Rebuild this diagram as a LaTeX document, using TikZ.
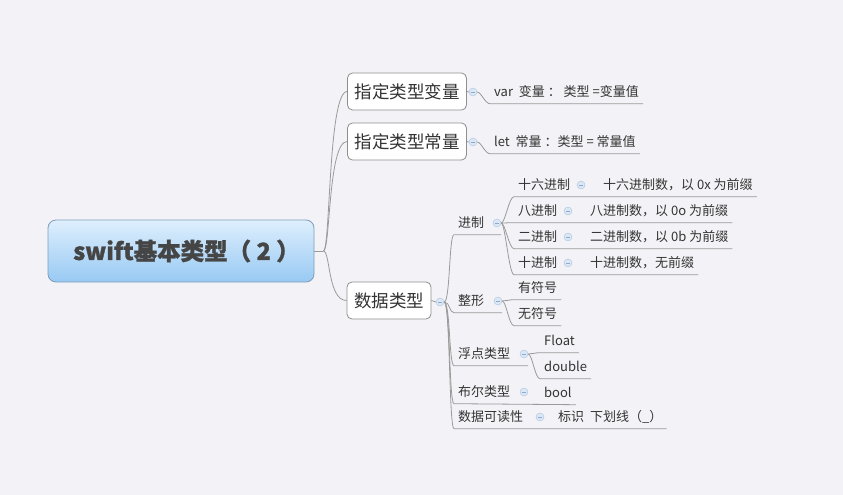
\documentclass[tikz,border=0pt]{standalone}
\usepackage{fontspec}
\setmainfont{Noto Sans CJK SC}
\newfontfamily\genfont{Noto Sans CJK SC}[BoldFeatures={FakeBold=1.2}]
\usetikzlibrary{positioning,calc}
\definecolor{beijing}{HTML}{F3F3F7}
\definecolor{xianse}{HTML}{9A9A9A}
\definecolor{wenzi}{HTML}{333333}
\definecolor{kuangbian}{HTML}{8E8E8E}
\definecolor{genbian}{HTML}{7F9DB9}
\definecolor{genshang}{HTML}{DEEFFD}
\definecolor{genxia}{HTML}{98C9F3}
\definecolor{genzi}{HTML}{454545}
\definecolor{dianse}{HTML}{DCE7F4}
\definecolor{dianbian}{HTML}{A9C2E2}
\definecolor{dianhen}{HTML}{8EAAD0}
\tikzset{
  gen/.style={draw=genbian,line width=0.8pt,rounded corners=8pt,top color=genshang,bottom color=genxia,
    minimum width=266pt,minimum height=62pt,font=\genfont\fontsize{23.5}{27}\selectfont\bfseries,text=genzi},
  kuang/.style={draw=kuangbian,line width=0.8pt,fill=white,rounded corners=5pt,minimum height=37pt,
    inner xsep=7pt,font=\fontsize{17.5}{20}\selectfont,text=wenzi},
  zi/.style={anchor=west,inner xsep=4pt,inner ysep=5pt,text height=11pt,text depth=2pt,
    font=\fontsize{13}{15}\selectfont,text=wenzi},
  dian/.style={circle,draw=dianbian,fill=dianse,minimum size=8pt,inner sep=0pt,
    path picture={\draw[dianhen,line width=0.9pt] ([xshift=1.8pt]path picture bounding box.west)
      -- ([xshift=-1.8pt]path picture bounding box.east);}},
  xian/.style={draw=xianse,line width=0.8pt},
}
\begin{document}
\begin{tikzpicture}[x=1pt,y=-1pt]
  \useasboundingbox[fill=beijing] (0,0) rectangle (843,495);

  \node[gen] (gen) at (181,251) {swift基本类型（ 2 ）\kern-11pt};
  \node[kuang] (bl) at (407,91.5) {指定类型变量};
  \node[kuang] (cl) at (407,141.5) {指定类型常量};
  \node[kuang] (sj) at (389,300.5) {数据类型};
  \draw[xian] (gen.east) -- ++(9,0) coordinate (gj);
  \draw[xian] (gj) .. controls +(7,0) and +(-19,0) .. (bl.west);
  \draw[xian] (gj) .. controls +(7,0) and +(-19,0) .. (cl.west);
  \draw[xian] (gj) .. controls +(7,0) and +(-19,0) .. (sj.west);

  \node[dian] (blm) at (473,92) {};
  \node[dian] (clm) at (473,142) {};
  \node[zi] (blz) at (490,92) {var\ \ 变量\ ：\ 类型 =变量值};
  \node[zi] (clz) at (490,142) {let\ \ 常量\ ：类型 = 常量值};
  \draw[xian] (bl.east) -- (blm.west);
  \draw[xian] (cl.east) -- (clm.west);
  \draw[xian] (blm.east) .. controls +(4,0) and +(-5,0) .. (blz.south west) -- (blz.south east);
  \draw[xian] (clm.east) .. controls +(4,0) and +(-5,0) .. (clz.south west) -- (clz.south east);

  \node[dian] (sjm) at (440,302) {};
  \node[dian] (jzm) at (497,223) {};
  \node[dian] (zxm) at (498,301) {};
  \node[dian] (fdm) at (524,354) {};
  \node[dian] (bem) at (524,392) {};
  \node[dian] (kdm) at (540,417) {};
  \node[zi] (jz) at (454,223) {进制};
  \node[zi] (zx) at (454,301) {整形};
  \node[zi] (fd) at (454,354) {浮点类型};
  \node[zi] (be) at (454,392) {布尔类型};
  \node[zi] (kd) at (454,417) {数据可读性};
  \draw[xian] (sj.east) -- (sjm.west);

  \node[dian] (slm) at (581,185) {};
  \node[dian] (bjm) at (568,211) {};
  \node[dian] (ejm) at (568,237) {};
  \node[dian] (shm) at (568,263) {};
  \node[zi] (sl) at (514,185) {十六进制};
  \node[zi] (bj) at (514,211) {八进制};
  \node[zi] (ej) at (514,237) {二进制};
  \node[zi] (sh) at (514,263) {十进制};
  \node[zi] (slz) at (599,185) {十六进制数，以 0x 为前缀};
  \node[zi] (bjz) at (586,211) {八进制数，以 0o 为前缀};
  \node[zi] (ejz) at (586,237) {二进制数，以 0b 为前缀};
  \node[zi] (shz) at (586,263) {十进制数，无前缀};
  \node[zi] (yf) at (514,288) {有符号};
  \node[zi] (wf) at (514,314) {无符号};
  \node[zi] (fl) at (540,341) {Float};
  \node[zi] (db) at (540,367) {double};
  \node[zi] (bo) at (540,393) {bool};
  \node[zi] (bs) at (554,417) {标识\ \ 下划线（\_）};

  \draw[xian] (sjm.east) .. controls +(6,0) and +(-5,0) .. (jz.south west) -- (jzm.east |- jz.south);
  \draw[xian] (sjm.east) .. controls +(6,0) and +(-5,0) .. (zx.south west) -- (zxm.east |- zx.south);
  \draw[xian] (sjm.east) .. controls +(6,0) and +(-5,0) .. (fd.south west) -- (fdm.east |- fd.south);
  \draw[xian] (sjm.east) .. controls +(6,0) and +(-5,0) .. (be.south west) -- (bo.south east);
  \draw[xian] (sjm.east) .. controls +(6,0) and +(-5,0) .. (kd.south west) -- (bs.south east);
  \draw[xian] (jzm.east) .. controls +(4,0) and +(-5,0) .. (sl.south west) -- (slz.south east);
  \draw[xian] (jzm.east) .. controls +(4,0) and +(-5,0) .. (bj.south west) -- (bjz.south east);
  \draw[xian] (jzm.east) .. controls +(4,0) and +(-5,0) .. (ej.south west) -- (ejz.south east);
  \draw[xian] (jzm.east) .. controls +(4,0) and +(-5,0) .. (sh.south west) -- (shz.south east);
  \draw[xian] (zxm.east) .. controls +(4,0) and +(-5,0) .. (yf.south west) -- (yf.south east);
  \draw[xian] (zxm.east) .. controls +(4,0) and +(-5,0) .. (wf.south west) -- (wf.south east);
  \draw[xian] (fdm.east) .. controls +(4,0) and +(-5,0) .. (fl.south west) -- (fl.south east);
  \draw[xian] (fdm.east) .. controls +(4,0) and +(-5,0) .. (db.south west) -- (db.south east);
\end{tikzpicture}
\end{document}
